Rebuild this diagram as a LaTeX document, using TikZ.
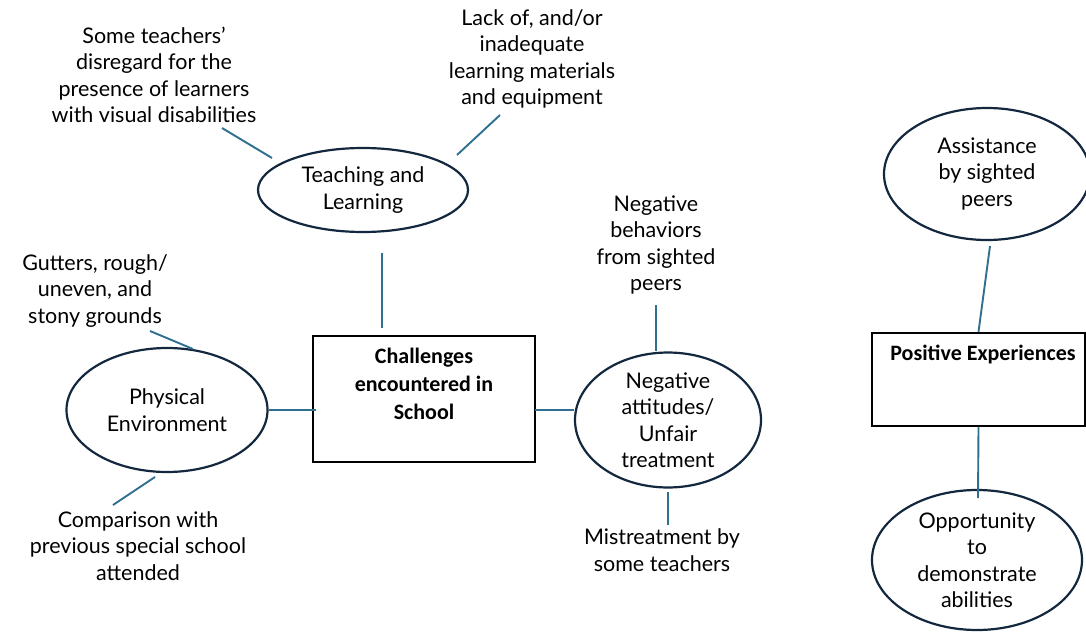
\documentclass[tikz,border=0pt]{standalone}
\usepackage{fontspec}
\setmainfont{Lato}
\newfontfamily\headfont{Carlito}
\usetikzlibrary{shapes.geometric}
\definecolor{link}{HTML}{2F6F8F}
\definecolor{rim}{HTML}{13283E}
\begin{document}
\begin{tikzpicture}[x=1pt,y=-1pt,
  txt/.style={align=center,inner sep=0pt,font=\fontsize{21.5}{26.5}\selectfont},
  oval/.style={ellipse,draw=rim,line width=2.2pt,inner sep=0pt,align=center,
    font=\fontsize{21.5}{26.5}\selectfont},
  frame/.style={draw=black,line width=2.4pt,inner sep=0pt},
  head/.style={align=center,inner sep=0pt,font=\headfont\bfseries\fontsize{22}{28}\selectfont},
  link/.style={draw=link,line width=1.9pt}]
\useasboundingbox (0,0) rectangle (1086,636);

% central box and its themes
\node[frame,minimum width=222pt,minimum height=126pt] (chal) at (424,399) {};
\node[head] (chaltxt) at (424,384) {Challenges\\encountered in\\School};

\node[oval,minimum width=210pt,minimum height=84pt] (teach) at (363,190) {Teaching and\\Learning};
\node[oval,minimum width=201pt,minimum height=124pt] (phys) at (167,410) {Physical\\Environment};
\node[oval,minimum width=186pt,minimum height=134pt] (neg) at (668,420) {Negative\\attitudes/\\Unfair\\treatment};

% sub-themes
\node[txt] (disregard) at (154,75) {Some teachers’\\disregard for the\\presence of learners\\with visual disabilities};
\node[txt] (materials) at (532,59) {Lack of, and/or\\inadequate\\learning materials\\and equipment};
\node[txt] (grounds) at (95,291) {Gutters, rough/\\uneven, and\\stony grounds};
\node[txt] (special) at (138,546) {Comparison with\\previous special school\\attended};
\node[txt] (peers) at (656,245) {Negative\\behaviors\\from sighted\\peers};
\node[txt] (mistreat) at (662,550) {Mistreatment by\\some teachers};

% positive side
\node[frame,minimum width=213pt,minimum height=93pt] (pos) at (978.5,379.5) {};
\node[head] (postxt) at (983,354) {Positive Experiences};
\node[oval,minimum width=206pt,minimum height=132pt] (assist) at (987,174) {Assistance\\by sighted\\peers};
\node[oval,minimum width=210pt,minimum height=140pt] (opp) at (977,560) {Opportunity\\to\\demonstrate\\abilities};

% free ends of the connectors
\coordinate (c1) at (222,128);
\coordinate (c2) at (500,115);
\coordinate (c3a) at (382,253);
\coordinate (c3b) at (382,328);
\coordinate (c4) at (150,331);
\coordinate (c5) at (113,505);
\coordinate (c6) at (656,305);
\coordinate (c7) at (668,525);
\coordinate (c8) at (316,410);
\coordinate (c9) at (668,492);
\coordinate (c10) at (535,410);

% connectors
\draw[link] (c1) -- (272,158);
\draw[link] (c2) -- (457,155);
\draw[link] (c3a) -- (c3b);
\draw[link] (c4) -- (193,349);
\draw[link] (phys.east) -- (c8);
\draw[link] (155,477) -- (c5);
\draw[link] (c10) -- (c10 -| neg.west);
\draw[link] (c6) -- (neg.north -| c6);
\draw[link] (c9) -- (c7);
\draw[link] (assist.south) ++(3,5) -- (pos.north);
\draw[link] (pos.south) -- (978,498);
\end{tikzpicture}
\end{document}
